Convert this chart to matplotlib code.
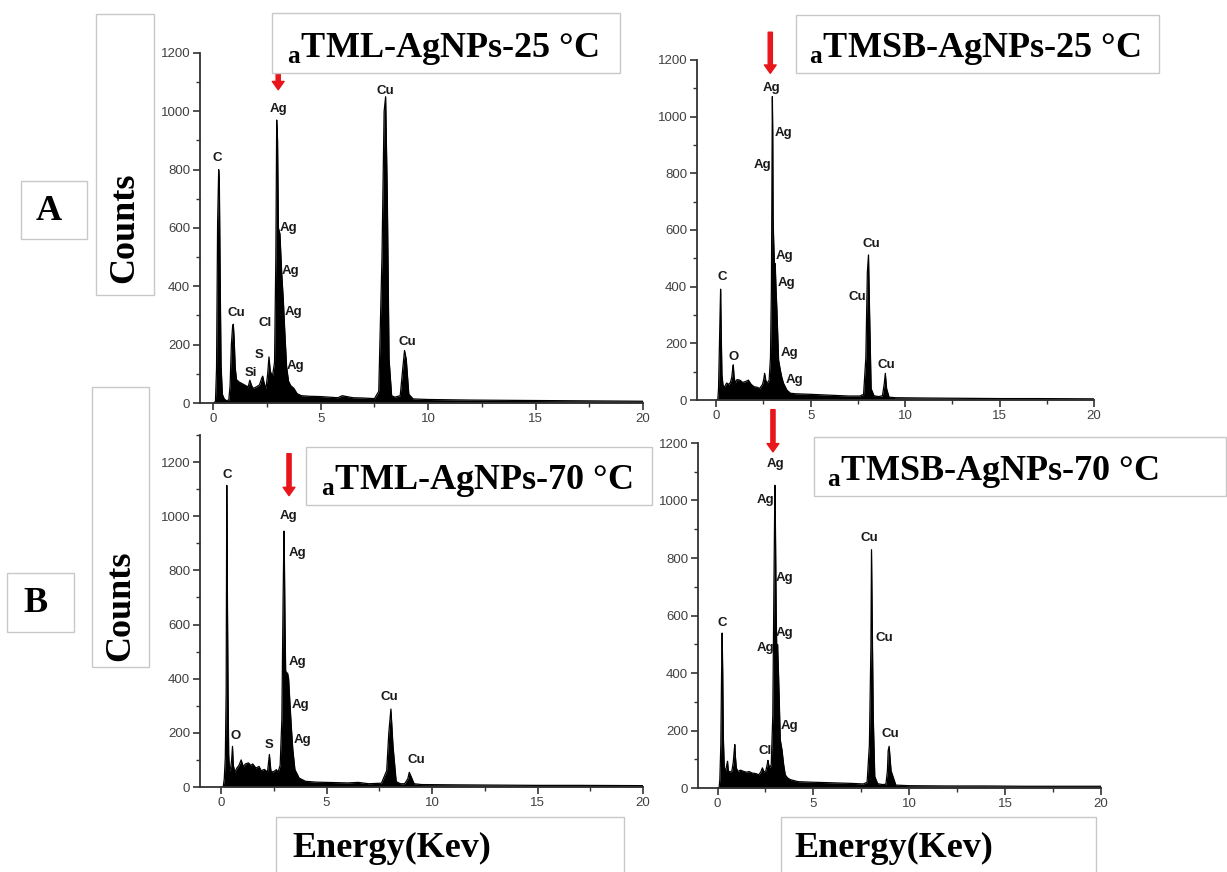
import matplotlib.pyplot as plt
from matplotlib.patches import Rectangle

plt.rcParams['font.family'] = ['Liberation Sans', 'DejaVu Sans']
plt.rcParams['mathtext.fontset'] = 'custom'
plt.rcParams['mathtext.rm'] = 'Liberation Serif'
plt.rcParams['mathtext.bf'] = 'Liberation Serif:bold'

# ---- spectra (energy in keV, counts) ----
tml25_e = [0.0, 0.1, 0.15, 0.2, 0.25, 0.28, 0.32, 0.36, 0.42, 0.5, 0.6, 0.72, 0.78, 0.84, 0.9,
           0.93, 0.97, 1.02, 1.08, 1.2, 1.35, 1.5, 1.62, 1.7, 1.78, 1.86, 2.0, 2.15, 2.25, 2.3,
           2.36, 2.45, 2.53, 2.59, 2.65, 2.75, 2.85, 2.91, 2.95, 2.99, 3.03, 3.1, 3.18, 3.26,
           3.33, 3.41, 3.5, 3.6, 3.75, 3.9, 4.1, 4.5, 5.0, 5.8, 6.0, 6.5, 7.0, 7.5, 7.7, 7.85,
           7.95, 8.02, 8.1, 8.18, 8.3, 8.45, 8.7, 8.82, 8.9, 8.98, 9.1, 9.3, 10, 12, 14, 16, 18, 20]
tml25_c = [0, 5, 120, 620, 800, 760, 420, 130, 30, 15, 8, 10, 60, 200, 265,
           270, 220, 120, 80, 72, 66, 60, 55, 78, 60, 50, 55, 62, 85, 92,
           70, 48, 100, 158, 110, 90, 140, 500, 970, 900, 600, 580, 450, 350,
           240, 125, 75, 60, 50, 32, 25, 23, 22, 18, 25, 18, 17, 15, 40, 500,
           1000, 1050, 700, 150, 25, 20, 25, 120, 180, 150, 30, 14, 12, 10, 9, 8, 7, 6]

tmsb25_e = [0.0, 0.08, 0.12, 0.17, 0.21, 0.23, 0.26, 0.3, 0.36, 0.45, 0.55, 0.65, 0.75, 0.82,
            0.87, 0.9, 0.94, 1.0, 1.1, 1.25, 1.4, 1.55, 1.7, 1.85, 2.0, 2.15, 2.3, 2.45, 2.52,
            2.56, 2.62, 2.7, 2.8, 2.87, 2.92, 2.95, 2.97, 2.99, 3.01, 3.04, 3.08, 3.12, 3.16,
            3.21, 3.3, 3.39, 3.47, 3.56, 3.74, 3.92, 4.2, 5.0, 6.0, 7.0, 7.6, 7.8, 7.92, 8.0,
            8.06, 8.12, 8.2, 8.35, 8.6, 8.8, 8.9, 8.95, 9.02, 9.15, 9.5, 11, 13, 15, 17, 20]
tmsb25_c = [0, 0, 40, 200, 330, 391, 250, 90, 50, 47, 60, 55, 62, 80,
            110, 124, 85, 60, 72, 70, 62, 65, 70, 55, 47, 45, 41, 55, 75,
            94, 70, 59, 70, 150, 400, 800, 1071, 950, 640, 560, 480, 482, 400,
            318, 141, 106, 80, 59, 35, 24, 22, 20, 17, 14, 14, 20, 150, 450,
            512, 300, 40, 15, 12, 15, 60, 94, 40, 10, 8, 7, 6, 5, 5, 4]

tml70_e = [0, 0.1, 0.15, 0.2, 0.24, 0.27, 0.3, 0.33, 0.36, 0.4, 0.45, 0.5, 0.54, 0.58, 0.65,
           0.75, 0.85, 0.95, 1.05, 1.15, 1.3, 1.4, 1.5, 1.65, 1.8, 1.9, 2.05, 2.2, 2.29, 2.36,
           2.45, 2.55, 2.62, 2.7, 2.8, 2.88, 2.94, 2.98, 3.0, 3.03, 3.06, 3.1, 3.15, 3.2, 3.27,
           3.33, 3.4, 3.5, 3.7, 4.0, 4.5, 5.0, 6.0, 6.5, 7.0, 7.6, 7.85, 7.95, 8.05, 8.15, 8.3,
           8.5, 8.7, 8.85, 8.92, 9.0, 9.15, 9.5, 11, 13, 15, 17, 20]
tml70_c = [0, 0, 30, 110, 350, 1114, 700, 350, 120, 60, 70, 100, 150, 80, 55,
           70, 80, 100, 75, 85, 89, 80, 85, 70, 76, 60, 65, 55, 120, 60,
           55, 60, 64, 55, 80, 250, 700, 945, 850, 600, 430, 420, 421, 400, 300,
           220, 138, 64, 33, 21, 18, 17, 15, 17, 12, 14, 60, 200, 288, 150, 20,
           12, 12, 30, 54, 40, 12, 9, 8, 7, 6, 6, 5]

tmsb70_e = [0, 0.08, 0.12, 0.17, 0.21, 0.24, 0.27, 0.3, 0.35, 0.42, 0.48, 0.52, 0.56, 0.65,
            0.75, 0.82, 0.87, 0.9, 0.93, 0.98, 1.05, 1.2, 1.35, 1.5, 1.65, 1.8, 2.0, 2.15, 2.25,
            2.34, 2.42, 2.52, 2.6, 2.63, 2.7, 2.8, 2.88, 2.94, 2.99, 3.02, 3.06, 3.1, 3.13, 3.17,
            3.22, 3.27, 3.36, 3.45, 3.53, 3.65, 3.8, 4.2, 5.0, 6.0, 7.0, 7.6, 7.8, 7.92, 8.0,
            8.03, 8.08, 8.12, 8.2, 8.35, 8.6, 8.78, 8.86, 8.9, 8.95, 9.05, 9.3, 10, 12, 14, 16, 20]
tmsb70_c = [0, 0, 30, 150, 400, 539, 400, 180, 70, 60, 80, 93, 60, 55,
            60, 90, 130, 151, 110, 70, 58, 62, 58, 55, 57, 52, 50, 46, 55,
            70, 55, 60, 85, 96, 70, 80, 250, 700, 1053, 900, 600, 430, 499, 420,
            300, 168, 133, 80, 46, 35, 29, 22, 20, 18, 16, 14, 20, 150, 500,
            829, 500, 250, 40, 15, 12, 13, 60, 130, 145, 60, 10, 8, 7, 7, 6, 6]

# peak labels: (text, energy, counts)
tml25_labels = [('C', 0.16, 839), ('Ag', 3.02, 1009), ('Cu', 8.02, 1068), ('Ag', 3.49, 599),
                ('Ag', 3.57, 453), ('Cl', 2.43, 275), ('Ag', 3.72, 313), ('Cu', 1.05, 309),
                ('Cu', 9.04, 210), ('S', 2.14, 166), ('Si', 1.75, 103), ('Ag', 3.84, 126)]
tmsb25_labels = [('Ag', 2.95, 1100), ('Ag', 3.56, 944), ('Ag', 2.45, 829), ('Ag', 3.62, 508),
                 ('C', 0.3, 433), ('Ag', 3.7, 414), ('Cu', 8.2, 551), ('Cu', 7.48, 365),
                 ('O', 0.9, 151), ('Ag', 3.86, 167), ('Cu', 9.01, 124), ('Ag', 4.13, 71)]
tml70_labels = [('C', 0.3, 1151), ('Ag', 3.19, 1000), ('Ag', 3.63, 865), ('Ag', 3.63, 461),
                ('Ag', 3.77, 304), ('O', 0.71, 187), ('S', 2.27, 156), ('Ag', 3.87, 172),
                ('Cu', 7.97, 331), ('Cu', 9.27, 101)]
tmsb70_labels = [('Ag', 3.03, 1127), ('Ag', 2.49, 1003), ('Cu', 7.91, 870), ('Ag', 3.48, 730),
                 ('Ag', 3.48, 539), ('Ag', 2.49, 487), ('C', 0.23, 574), ('Cu', 8.7, 522),
                 ('Ag', 3.76, 217), ('Cl', 2.49, 128), ('Cu', 9.0, 188)]

W, H = 1227, 872
fig = plt.figure(figsize=(W / 100, H / 100), dpi=100)


def px_axes(l, t, r, b):
    return fig.add_axes([l / W, 1 - b / H, (r - l) / W, (b - t) / H])


panels = [
    # (box in px, xmin, ymax, energies, counts, labels, arrow energy, arrow top, arrow tip)
    ((200, 53, 643, 403), -0.62, 1200, tml25_e, tml25_c, tml25_labels, 3.02, 1132, 1074),
    ((697, 60, 1094, 400), -1.02, 1200, tmsb25_e, tmsb25_c, tmsb25_labels, 2.86, 1298, 1153),
    ((200, 435, 643, 787), -1.0, 1300, tml70_e, tml70_c, tml70_labels, 3.22, 1231, 1076),
    ((698, 443, 1101, 788), -1.02, 1200, tmsb70_e, tmsb70_c, tmsb70_labels, 2.89, 1316, 1169),
]

for box, xmin, ymax, e, c, labels, ae, ay0, ay1 in panels:
    ax = px_axes(*box)
    ax.fill_between(e, c, 0, color='black', lw=0)
    ax.plot(e, c, color='black', lw=0.9)
    ax.set_xlim(xmin, 20)
    ax.set_ylim(0, ymax)
    ax.spines[['top', 'right']].set_visible(False)
    for s in ['left', 'bottom']:
        ax.spines[s].set_linewidth(1.3)
        ax.spines[s].set_color('#333333')
    ax.set_xticks([0, 5, 10, 15, 20])
    ax.set_xticks([2.5, 7.5, 12.5, 17.5], minor=True)
    ax.set_yticks(range(0, 1201, 200))
    ax.set_yticks(range(100, ymax + 1, 200), minor=True)
    ax.tick_params(which='major', length=5, width=1.2, color='#333333',
                   labelsize=9.5, labelcolor='#404040', pad=2)
    ax.tick_params(which='minor', length=3, width=1.0, color='#333333')
    for txt, x, y in labels:
        ax.text(x, y, txt, fontsize=9.5, fontweight='bold', color='#1a1a1a',
                ha='center', va='center')
    ax.annotate('', xy=(ae, ay1), xytext=(ae, ay0), annotation_clip=False,
                arrowprops=dict(arrowstyle='simple,head_length=0.6,head_width=0.85,tail_width=0.3',
                                color='#e8151b', shrinkA=0, shrinkB=0))

# overlay in pixel units for the text boxes
ov = fig.add_axes([0, 0, 1, 1])
ov.set_xlim(0, W)
ov.set_ylim(H, 0)
ov.axis('off')
ov.patch.set_alpha(0)

boxes = [(271.7, 13.3, 620, 72.7), (795.7, 15, 1159, 72.7), (305.7, 447.3, 652, 505),
         (814.3, 437.3, 1226, 496), (275.7, 817, 624, 880), (780.7, 817, 1096, 880),
         (95.7, 14.3, 154.3, 295), (91.7, 386.7, 149.3, 667), (20.7, 180.7, 87.3, 239),
         (7.3, 573.3, 74.3, 632)]
for l, t, r, b in boxes:
    ov.add_patch(Rectangle((l, t), r - l, b - t, facecolor='white', edgecolor='#c8c8c8', lw=1))

serif = dict(family='Liberation Serif', fontweight='bold', color='black', fontsize=26)
titles = [(287, 56.7, 'TML-AgNPs-25 °C'), (809, 56.7, 'TMSB-AgNPs-25 °C'),
          (321, 489.3, 'TML-AgNPs-70 °C'), (827, 480, 'TMSB-AgNPs-70 °C')]
for x, y, t in titles:
    ov.text(x, y, r'${}_{\mathbf{a}}$' + t, ha='left', va='baseline', **serif)

ov.text(292, 856.7, 'Energy(Kev)', ha='left', va='baseline', **serif)
ov.text(794, 856.7, 'Energy(Kev)', ha='left', va='baseline', **serif)
ov.text(125, 228, 'Counts', rotation=90, ha='center', va='center', **serif)
ov.text(121, 606, 'Counts', rotation=90, ha='center', va='center', **serif)
ov.text(49, 211, 'A', ha='center', va='center', **serif)
ov.text(36, 603, 'B', ha='center', va='center', **serif)

fig.savefig('out.png', dpi=100)
